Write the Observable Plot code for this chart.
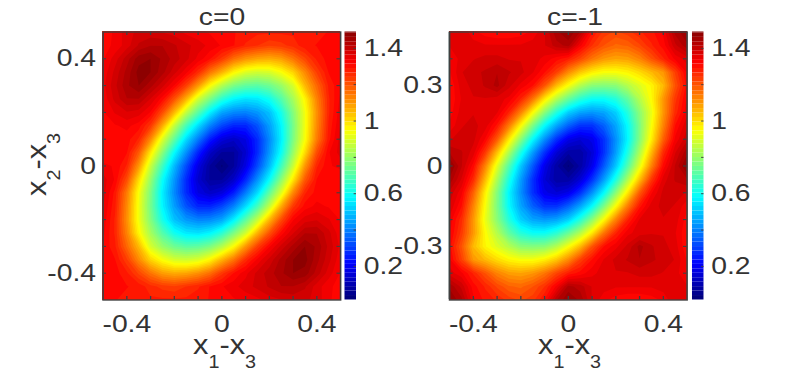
<!DOCTYPE html>
<html><head><meta charset="utf-8">
<script src="https://cdn.jsdelivr.net/npm/d3@7"></script>
<script src="https://cdn.jsdelivr.net/npm/@observablehq/plot@0.6"></script>
<style>
html,body{margin:0;background:#fff}
#page{position:relative;width:789px;height:375px;overflow:hidden;font-family:"Liberation Sans",Arial,sans-serif;color:#333}
#page svg{position:absolute;left:0;top:0;overflow:visible;transform:scaleX(1.18);transform-origin:0 0;max-width:none}
.lab{position:absolute;white-space:nowrap;line-height:1;font-size:28px}
.lab sub{font-size:18px;vertical-align:-14px;line-height:0}
.ttl{position:absolute;font-size:24px;line-height:1;white-space:nowrap}
</style></head><body><div id="page"></div>
<script>
// Rows run from y=+0.5 down to y=-0.5, columns from x=-0.5 to x=+0.5, step 0.05.
const valuesC0 = [
[1.30,1.33,1.36,1.38,1.38,1.37,1.36,1.34,1.33,1.32,1.31,1.30,1.29,1.28,1.28,1.28,1.28,1.28,1.29,1.30,1.30],
[1.31,1.33,1.36,1.40,1.42,1.42,1.40,1.38,1.36,1.34,1.32,1.30,1.27,1.25,1.23,1.24,1.26,1.29,1.30,1.31,1.30],
[1.32,1.36,1.41,1.46,1.47,1.44,1.41,1.38,1.34,1.30,1.24,1.16,1.11,1.08,1.07,1.09,1.15,1.22,1.28,1.31,1.31],
[1.33,1.38,1.43,1.48,1.47,1.43,1.38,1.33,1.26,1.15,1.06,.96,.90,.88,.89,.94,1.01,1.12,1.23,1.30,1.32],
[1.34,1.39,1.44,1.47,1.43,1.38,1.32,1.23,1.10,.95,.84,.76,.72,.71,.74,.80,.89,1.05,1.17,1.28,1.32],
[1.33,1.38,1.42,1.42,1.37,1.31,1.20,1.06,.88,.76,.64,.57,.54,.55,.60,.70,.82,.96,1.13,1.27,1.33],
[1.32,1.35,1.37,1.36,1.32,1.21,1.05,.86,.71,.56,.45,.41,.40,.43,.49,.61,.77,.93,1.11,1.27,1.34],
[1.30,1.32,1.33,1.31,1.24,1.07,.86,.68,.53,.40,.31,.26,.26,.33,.44,.57,.75,.93,1.12,1.28,1.35],
[1.30,1.30,1.31,1.27,1.12,.90,.72,.53,.39,.25,.16,.13,.17,.27,.41,.56,.76,.94,1.14,1.29,1.36],
[1.30,1.30,1.30,1.19,.98,.78,.58,.42,.26,.13,.07,.07,.14,.27,.43,.59,.80,1.00,1.21,1.32,1.36],
[1.33,1.32,1.27,1.10,.87,.67,.48,.32,.17,.07,.02,.07,.17,.32,.48,.67,.87,1.10,1.27,1.32,1.33],
[1.36,1.32,1.21,1.00,.80,.59,.43,.27,.14,.07,.07,.13,.26,.42,.58,.78,.98,1.19,1.30,1.30,1.30],
[1.36,1.29,1.14,.94,.76,.56,.41,.27,.17,.13,.16,.25,.39,.53,.72,.90,1.12,1.27,1.31,1.30,1.30],
[1.35,1.28,1.12,.93,.75,.57,.44,.33,.26,.26,.31,.40,.53,.68,.86,1.07,1.24,1.31,1.33,1.32,1.30],
[1.34,1.27,1.11,.93,.77,.61,.49,.43,.40,.41,.45,.56,.71,.86,1.05,1.21,1.32,1.36,1.37,1.35,1.32],
[1.33,1.27,1.13,.96,.82,.70,.60,.55,.54,.57,.64,.76,.88,1.06,1.20,1.31,1.37,1.42,1.42,1.38,1.33],
[1.32,1.28,1.17,1.05,.89,.80,.74,.71,.72,.76,.84,.95,1.10,1.23,1.32,1.38,1.43,1.47,1.44,1.39,1.34],
[1.32,1.30,1.23,1.12,1.01,.94,.89,.88,.90,.96,1.06,1.15,1.26,1.33,1.38,1.43,1.47,1.48,1.43,1.38,1.33],
[1.31,1.31,1.28,1.22,1.15,1.09,1.07,1.08,1.11,1.16,1.24,1.30,1.34,1.38,1.41,1.44,1.47,1.46,1.41,1.36,1.32],
[1.30,1.31,1.30,1.29,1.26,1.24,1.23,1.25,1.27,1.30,1.32,1.34,1.36,1.38,1.40,1.42,1.42,1.40,1.36,1.33,1.31],
[1.30,1.30,1.29,1.28,1.28,1.28,1.28,1.28,1.29,1.30,1.31,1.32,1.33,1.34,1.36,1.37,1.38,1.38,1.36,1.33,1.30]
];
const valuesCm1 = [
[1.36,1.37,1.33,1.31,1.30,1.30,1.31,1.33,1.37,1.44,1.47,1.42,1.30,1.24,1.22,1.24,1.27,1.29,1.33,1.43,1.47],
[1.35,1.36,1.36,1.35,1.35,1.35,1.35,1.36,1.37,1.41,1.43,1.33,1.25,1.20,1.17,1.18,1.22,1.27,1.31,1.39,1.44],
[1.32,1.36,1.37,1.38,1.38,1.37,1.37,1.36,1.34,1.31,1.28,1.22,1.15,1.10,1.08,1.09,1.13,1.20,1.27,1.33,1.36],
[1.32,1.37,1.39,1.40,1.42,1.40,1.38,1.35,1.30,1.23,1.12,1.03,.97,.94,.94,.96,1.00,1.05,1.10,1.23,1.33],
[1.30,1.36,1.38,1.40,1.43,1.38,1.34,1.30,1.20,1.05,.94,.84,.78,.77,.78,.84,.90,.96,1.05,1.20,1.31],
[1.30,1.35,1.37,1.37,1.36,1.34,1.27,1.15,.98,.84,.73,.64,.59,.59,.63,.72,.84,.95,1.10,1.24,1.33],
[1.31,1.36,1.37,1.37,1.35,1.27,1.13,.95,.78,.63,.51,.45,.43,.45,.51,.63,.78,.92,1.10,1.26,1.34],
[1.33,1.37,1.38,1.36,1.29,1.14,.95,.76,.58,.45,.35,.28,.28,.35,.45,.58,.76,.94,1.13,1.30,1.37],
[1.37,1.38,1.38,1.32,1.19,.98,.78,.58,.42,.28,.18,.15,.18,.28,.42,.57,.77,.97,1.18,1.33,1.39],
[1.42,1.40,1.36,1.24,1.04,.83,.62,.44,.28,.15,.08,.08,.15,.28,.44,.62,.83,1.05,1.26,1.37,1.44],
[1.48,1.40,1.31,1.13,.91,.70,.50,.34,.18,.08,.02,.08,.18,.34,.50,.70,.91,1.13,1.31,1.40,1.48],
[1.44,1.37,1.26,1.05,.83,.62,.44,.28,.15,.08,.08,.15,.28,.44,.62,.83,1.04,1.24,1.36,1.40,1.42],
[1.39,1.33,1.18,.97,.77,.57,.42,.28,.18,.15,.18,.28,.42,.58,.78,.98,1.19,1.32,1.38,1.38,1.37],
[1.37,1.30,1.13,.94,.76,.58,.45,.35,.28,.28,.35,.45,.58,.76,.95,1.14,1.29,1.36,1.38,1.37,1.33],
[1.34,1.26,1.10,.92,.78,.63,.51,.45,.43,.45,.51,.63,.78,.95,1.13,1.27,1.35,1.37,1.37,1.36,1.31],
[1.33,1.24,1.10,.95,.84,.72,.63,.59,.59,.64,.73,.84,.98,1.15,1.27,1.34,1.36,1.37,1.37,1.35,1.30],
[1.31,1.20,1.05,.96,.90,.84,.78,.77,.78,.84,.94,1.05,1.20,1.30,1.34,1.38,1.43,1.40,1.38,1.36,1.30],
[1.33,1.23,1.10,1.05,1.00,.96,.94,.94,.97,1.03,1.12,1.23,1.30,1.35,1.38,1.40,1.42,1.40,1.39,1.37,1.32],
[1.36,1.33,1.27,1.20,1.13,1.09,1.08,1.10,1.15,1.22,1.28,1.31,1.34,1.36,1.37,1.37,1.38,1.38,1.37,1.36,1.32],
[1.44,1.39,1.31,1.27,1.22,1.18,1.17,1.20,1.25,1.33,1.43,1.41,1.37,1.36,1.35,1.35,1.35,1.35,1.36,1.36,1.35],
[1.47,1.43,1.33,1.29,1.27,1.24,1.22,1.24,1.30,1.42,1.47,1.44,1.37,1.33,1.31,1.30,1.30,1.31,1.33,1.37,1.36]
];
const minorTicks = [-0.4,-0.3,-0.2,-0.1,0,0.1,0.2,0.3,0.4];
const xLabels = [-0.4,0,0.4];
const yLabelsC0 = [-0.4,0,0.4];
const yLabelsCm1 = [-0.3,0,0.3];
const barLabels = [0.2,0.6,1,1.4];
const barTicks = [0.2,0.4,0.6,0.8,1,1.2,1.4];
const colorDomain = [0.015,1.49];
const jetStops = ["#00007f","#0000ff","#00ffff","#ffff00","#ff0000","#7f0000"];
const jetPositions = [0,0.125,0.375,0.625,0.875,1];

const K = 1.18, W = 789/K, H = 375, top_ = 31.5, bottom_ = 75.5, INK = "#333", EDGE = "#404040";
const color = {type:"linear", domain:jetPositions.map(p=>colorDomain[0]+p*(colorDomain[1]-colorDomain[0])), range:jetStops, interpolate:"rgb"};
const levels = d3.range(0,1.5,0.0245);
const page = document.getElementById("page");
const fmt = d => String(d);
const common = {width:W,height:H,marginTop:top_,marginBottom:bottom_,style:{background:"transparent",fontFamily:"'Liberation Sans',Arial,sans-serif",color:INK}};

function heat(rows,left,yLabels){
  const frameH = H-top_-bottom_, frameW = 237.5/K;
  const l = left/K;
  page.append(Plot.plot({...common,marginLeft:l,marginRight:W-l-frameW,color,
    x:{domain:[-0.5,0.5],axis:null},y:{domain:[-0.5,0.5],axis:null},
    marks:[
      Plot.contour(rows.flat(),{value:d=>d,width:21,height:21,x1:-0.525,x2:0.525,y1:0.525,y2:-0.525,thresholds:levels,fill:"value",clip:true}),
      Plot.tickX(minorTicks,{x:d=>d,insetTop:frameH-3.5,stroke:EDGE,strokeWidth:1.1}),
      Plot.tickX(minorTicks,{x:d=>d,insetBottom:frameH-3.5,stroke:EDGE,strokeWidth:1.1}),
      Plot.tickY(minorTicks,{y:d=>d,insetRight:frameW-3,stroke:EDGE,strokeWidth:1.1}),
      Plot.tickY(minorTicks,{y:d=>d,insetLeft:frameW-3,stroke:EDGE,strokeWidth:1.1}),
      Plot.frame({stroke:EDGE,strokeWidth:1.4}),
      Plot.axisX(xLabels,{anchor:"bottom",tickSize:0,tickPadding:15,fontSize:24,tickFormat:fmt,fill:INK}),
      Plot.axisY(yLabels,{anchor:"left",tickSize:0,tickPadding:6,fontSize:24,tickFormat:fmt,fill:INK})
    ]}));
}
function bar(left){
  const step = 0.0245, frameW = 11.5/K, l = left/K;
  page.append(Plot.plot({...common,marginLeft:l,marginRight:W-l-frameW,color,
    x:{domain:[0,1],axis:null},y:{domain:colorDomain,axis:null},
    marks:[
      Plot.rect(d3.range(colorDomain[0],colorDomain[1],step),{x1:0,x2:1,y1:d=>d,y2:d=>Math.min(d+step,colorDomain[1]),fill:d=>d}),
      Plot.tickY(barTicks,{y:d=>d,insetLeft:frameW-2,stroke:EDGE,strokeWidth:1}),
      Plot.axisY(barLabels,{anchor:"right",tickSize:0,tickPadding:6,fontSize:24,tickFormat:fmt,fill:INK})
    ]}));
}
function label(html,x,y,vertical){
  const d = document.createElement("div");
  d.className = "lab"; d.innerHTML = html;
  d.style.left = x+"px"; d.style.top = y+"px";
  d.style.transformOrigin="0 0";
  d.style.transform = vertical ? "rotate(-90deg) scaleX(1.1)" : "scaleX(1.1)";
  page.append(d);
}
function title(t,x){
  const d = document.createElement("div");
  d.className="ttl"; d.textContent=t; d.style.left=x+"px"; d.style.top="5px";
  d.style.transform="translateX(-50%) scaleX(1.18)";
  page.append(d);
}
heat(valuesC0,102.5,yLabelsC0);
bar(344.5);
heat(valuesCm1,449,yLabelsCm1);
bar(692);
title("c=0",222);
title("c=-1",575);
label("x<sub>1</sub>-x<sub>3</sub>",193,331);
label("x<sub>1</sub>-x<sub>3</sub>",538,331);
label("x<sub>2</sub>-x<sub>3</sub>",23,196,true);
</script></body></html>
